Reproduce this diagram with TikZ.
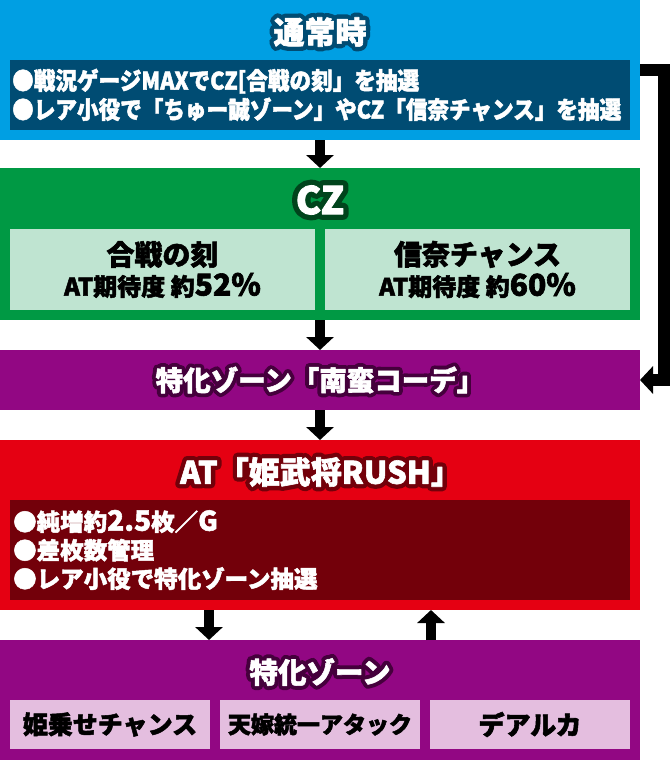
\documentclass[tikz,border=0pt]{standalone}
\usepackage{fontspec}
\setmainfont{Noto Sans CJK JP}[BoldFeatures={FakeBold=2}]
\newfontfamily\rimfont{Noto Sans CJK JP}[FakeBold=30]
\newfontfamily\narrowfont{Noto Sans CJK JP}[FakeStretch=0.9, BoldFeatures={FakeBold=2}]
\usetikzlibrary{arrows.meta}

\definecolor{tsujoblue}{HTML}{009FE3}
\definecolor{tsujodark}{HTML}{004C73}
\definecolor{czgreen}{HTML}{009944}
\definecolor{czlight}{HTML}{BFE4D1}
\definecolor{czdark}{HTML}{00441C}
\definecolor{zonepurple}{HTML}{920783}
\definecolor{zonelight}{HTML}{E4BEDF}
\definecolor{zonedark}{HTML}{45003C}
\definecolor{atred}{HTML}{E50012}
\definecolor{atdark}{HTML}{73000A}

% white title text with a dark rim
\newcommand{\rimmed}[2]{\makebox[0pt][l]{\special{pdf:literal direct 1 j 1 J}\color{#1}\rimfont\bfseries #2}#2}

\tikzset{
  box/.style={rectangle, inner sep=0pt, outer sep=0pt, anchor=north west},
  title/.style={inner sep=0pt, text=white},
  bullets/.style={inner sep=0pt, anchor=west, align=left, text=white},
  rate/.style={box, fill=czlight, minimum width=305pt, minimum height=81pt, align=center, font=\bfseries},
  pick/.style={box, fill=zonelight, minimum width=200pt, minimum height=49pt},
  arr/.style={line width=10pt, line join=miter, line cap=butt, -{Triangle[width=27pt,length=13pt]}},
}

\begin{document}
\begin{tikzpicture}[x=1pt, y={(0,-1pt)}]
\useasboundingbox (0,0) rectangle (670,760);

% ---- normal play
\node[box, fill=tsujoblue, minimum width=640pt, minimum height=140pt] (normal) at (0,0) {};
\node[title, font=\fontsize{31}{33}\selectfont\bfseries] (normaltitle) at (320,32) {\rimmed{tsujodark}{通常時}};
\node[box, fill=tsujodark, minimum width=620pt, minimum height=70pt] (normalinfo) at (10,60) {};
\node[bullets, font=\narrowfont\fontsize{24}{29}\selectfont\bfseries] (normaltext) at ([xshift=2pt]normalinfo.west)
  {●戦況ゲージMAXでCZ[合戦の刻」を抽選\\●レア小役で「ちゅー誠ゾーン」やCZ「信奈チャンス」を抽選};

% ---- CZ
\node[box, fill=czgreen, minimum width=640pt, minimum height=152pt] (cz) at (0,168) {};
\node[title, font=\fontsize{38}{40}\selectfont\bfseries] (cztitle) at (320,200) {\rimmed{czdark}{CZ}};
\node[rate] (kassen) at (10,229)
  {{\fontsize{28}{37}\selectfont 合戦の刻}\\[4pt]{\fontsize{24}{37}\selectfont AT期待度 約{\fontsize{30}{37}\selectfont 52\%}}};
\node[rate] (nobuna) at (325,229)
  {{\fontsize{28}{37}\selectfont 信奈チャンス}\\[4pt]{\fontsize{24}{37}\selectfont AT期待度 約{\fontsize{30}{37}\selectfont 60\%}}};

% ---- special zone
\node[box, fill=zonepurple, minimum width=640pt, minimum height=60pt] (nanban) at (0,350) {};
\node[title, font=\fontsize{27.5}{30}\selectfont\bfseries] (nanbantitle) at (nanban.center) {\rimmed{zonedark}{特化ゾーン「南蛮コーデ」}};

% ---- AT
\node[box, fill=atred, minimum width=640pt, minimum height=170pt] (at) at (0,440) {};
\node[title, font=\fontsize{31}{33}\selectfont\bfseries] (attitle) at (321,472) {\rimmed{atdark}{AT「姫武将RUSH」}};
\node[box, fill=atdark, minimum width=620pt, minimum height=100pt] (atinfo) at (10,500) {};
\node[bullets, font=\fontsize{23.5}{28.5}\selectfont\bfseries] (attext) at ([xshift=3pt]atinfo.west)
  {●純増約{\fontsize{28}{28.5}\selectfont 2.5}枚／{\fontsize{27}{28.5}\selectfont G}\\●差枚数管理\\●レア小役で特化ゾーン抽選};

% ---- zones
\node[box, fill=zonepurple, minimum width=640pt, minimum height=120pt] (zone) at (0,640) {};
\node[title, font=\fontsize{28.5}{30}\selectfont\bfseries] (zonetitle) at (320,672) {\rimmed{zonedark}{特化ゾーン}};
\node[pick, font=\fontsize{25}{30}\selectfont\bfseries] (hime) at (10,700) {姫乗せチャンス};
\node[pick, font=\fontsize{23}{30}\selectfont\bfseries] (tenka) at (220,700) {天嫁統一アタック};
\node[pick, font=\fontsize{26}{30}\selectfont\bfseries] (dearuka) at (430,700) {デアルカ};

% ---- flow
\draw[arr] (normal) -- (cz);
\draw[arr] (cz) -- (nanban);
\draw[arr] (nanban) -- (at);
\draw[arr] ([xshift=-111pt]at.south) -- ([xshift=-111pt]zone.north);
\draw[arr] ([xshift=111pt]zone.north) -- ([xshift=111pt]at.south);
\draw[arr, line width=12pt] (normal.east) -- ++(24,0) |- (nanban.east);
\end{tikzpicture}
\end{document}
